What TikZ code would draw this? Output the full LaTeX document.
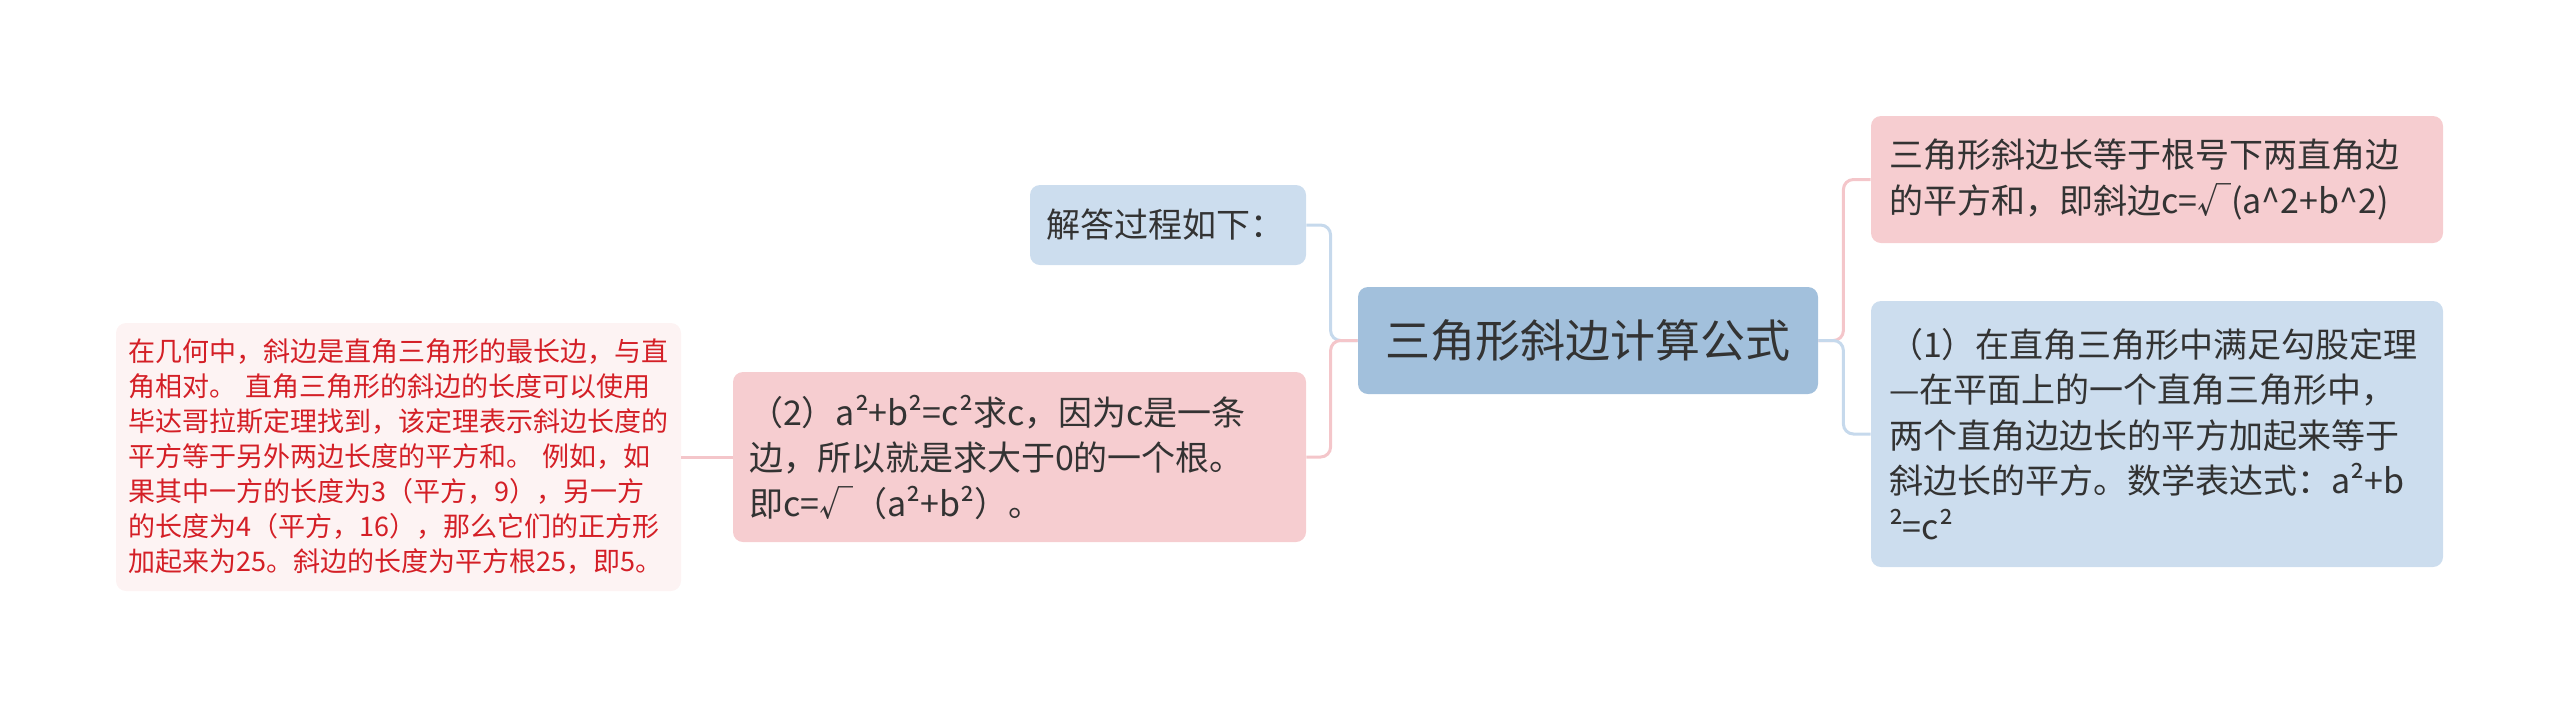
\documentclass[tikz,border=0pt]{standalone}
\usepackage[dvipsnames]{xcolor}
\usepackage{tikz}
\usepackage{fontspec}
\setmainfont{Noto Sans CJK SC}
\definecolor{RootBlue}{HTML}{A2C0DC}
\definecolor{LeafBlue}{HTML}{CCDDEE}
\definecolor{LeafPink}{HTML}{F6CDD0}
\definecolor{NotePink}{HTML}{FDF3F3}
\definecolor{NoteRed}{HTML}{D41F26}
\definecolor{InkGray}{HTML}{333333}
\definecolor{WirePink}{HTML}{F4C6CA}
\definecolor{WireBlue}{HTML}{C6D9EC}

\begin{document}
\begin{tikzpicture}[x=0.5pt,y=-0.5pt,
    card/.style={rounded corners=5pt,inner ysep=0pt,align=left,text=InkGray,
      font=\fontsize{17pt}{22.75pt}\selectfont},
    wire/.style={line width=1.5pt,rounded corners=5pt}]
  \useasboundingbox (0,0) rectangle (2560,709);
  \node[rounded corners=5pt,fill=RootBlue,text=InkGray,inner sep=0pt,
    minimum width=230pt,minimum height=53.5pt,
    font=\fontsize{22.5pt}{28pt}\selectfont] (root) at (1588,340.5) {三角形斜边计算公式};
  \node[card,fill=LeafBlue,inner xsep=8pt,text width=122pt,minimum height=40pt]
    (steps) at (1168,225) {解答过程如下：};
  \node[card,fill=LeafPink,inner xsep=8pt,text width=270.5pt,minimum height=85pt]
    (second) at (1019.5,457) {（2）a²+b²=c²求c，因为c是一条\\边，所以就是求大于0的一个根。\\即c=√（a²+b²）。};
  \node[card,fill=NotePink,text=NoteRed,inner xsep=6.25pt,text width=270pt,minimum height=134pt,
    font=\fontsize{13.5pt}{17.5pt}\selectfont] (note) at (398.5,457)
    {在几何中，斜边是直角三角形的最长边，与直\\角相对。 直角三角形的斜边的长度可以使用\\毕达哥拉斯定理找到，该定理表示斜边长度的\\平方等于另外两边长度的平方和。 例如，如\\果其中一方的长度为3（平方，9），另一方\\的长度为4（平方，16），那么它们的正方形\\加起来为25。斜边的长度为平方根25，即5。};
  \node[card,fill=LeafPink,inner xsep=9pt,text width=268pt,minimum height=63.5pt]
    (rule) at (2157,179.5) {三角形斜边长等于根号下两直角边\\的平方和，即斜边c=√(a\^{}2+b\^{}2)};
  \node[card,fill=LeafBlue,inner xsep=9pt,text width=268pt,minimum height=133pt]
    (first) at (2157,434) {（1）在直角三角形中满足勾股定理\\—在平面上的一个直角三角形中，\\两个直角边边长的平方加起来等于\\斜边长的平方。数学表达式：a²+b\\²=c²};
  \draw[wire,WireBlue] (root.west) -- ++(-27,0) |- (steps.east);
  \draw[wire,WirePink] (root.west) -- ++(-27,0) |- (second.east);
  \draw[wire,WirePink] (second.west) -- (note.east);
  \draw[wire,WirePink] (root.east) -- ++(25,0) |- (rule.west);
  \draw[wire,WireBlue] (root.east) -- ++(25,0) |- (first.west);
\end{tikzpicture}
\end{document}
